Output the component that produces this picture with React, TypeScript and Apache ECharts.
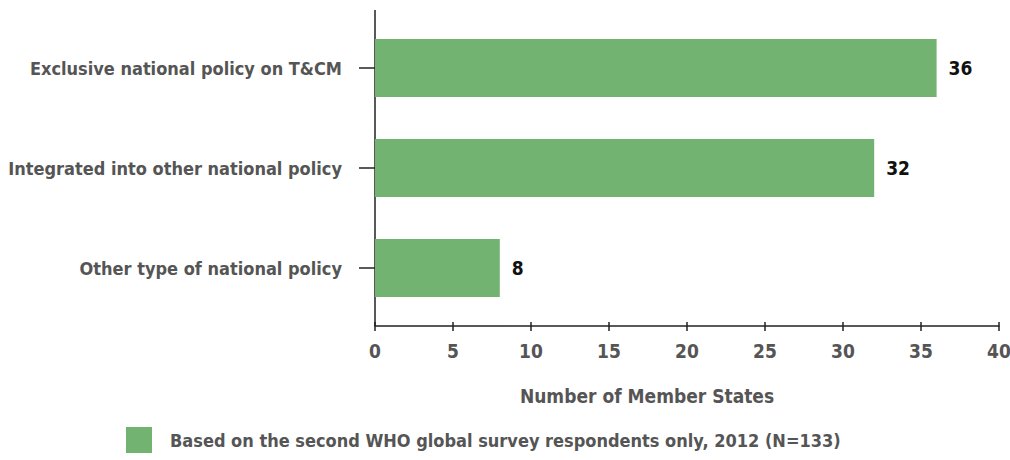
import React, { useEffect, useRef } from "react";
import * as echarts from "echarts";

const categories = [
  "Other type of national policy",
  "Integrated into other national policy",
  "Exclusive national policy on T&CM",
];
const values = [8, 32, 36];
const seriesName = "Based on the second WHO global survey respondents only, 2012 (N=133)";
const axisTitle = "Number of Member States";

const FONT = "'Liberation Sans Narrow', 'DejaVu Sans Condensed', 'Roboto', sans-serif";
const GRAY = "#555555";
const GREEN = "#72b372";

export default function App() {
  const ref = useRef<HTMLDivElement>(null);
  useEffect(() => {
    if (!ref.current) return;
    const chart = echarts.init(ref.current, undefined, { renderer: "svg" });
    chart.setOption({
      animation: false,
      textStyle: { fontFamily: FONT },
      grid: {
        left: 375,
        right: 11,
        top: 18,
        height: 300,
        containLabel: false,
        outerBoundsMode: "none",
      },
      title: {
        text: axisTitle,
        left: 647,
        top: 386,
        padding: 0,
        textAlign: "center",
        textStyle: { fontFamily: FONT, fontSize: 19, fontWeight: "bold", color: GRAY },
      },
      legend: {
        left: 126,
        top: 427,
        padding: 0,
        itemWidth: 26,
        itemHeight: 26,
        itemGap: 10,
        icon: "rect",
        textStyle: { fontFamily: FONT, fontSize: 18, fontWeight: "bold", color: GRAY, padding: [0, 0, 0, 13] },
        data: [seriesName],
      },
      xAxis: [
        {
          type: "value",
          min: 0,
          max: 40,
          interval: 5,
          offset: 8,
          axisLine: { show: true, lineStyle: { color: "#222", width: 1.5 } },
          axisTick: { show: true, length: 5, lineStyle: { color: "#222", width: 1.5 } },
          axisLabel: {
            margin: 15,
            fontFamily: FONT,
            fontSize: 19,
            fontWeight: "bold",
            color: GRAY,
            showMaxLabel: true,
            hideOverlap: false,
          },
          splitLine: { show: false },
        },
        {
          type: "value",
          min: 0,
          max: 40,
          interval: 5,
          position: "bottom",
          offset: 8,
          axisLine: { show: false },
          axisTick: { show: true, inside: true, length: 4, lineStyle: { color: "#222", width: 1.5 } },
          axisLabel: { show: false },
          splitLine: { show: false },
        },
      ],
      yAxis: {
        type: "category",
        data: categories,
        axisLine: { show: false },
        axisTick: { show: true, length: 16, alignWithLabel: true, lineStyle: { color: "#222", width: 1.5 } },
        axisLabel: { margin: 33, fontFamily: FONT, fontSize: 18, fontWeight: "bold", color: GRAY },
      },
      graphic: [
        {
          type: "line",
          shape: { x1: 375, y1: 10, x2: 375, y2: 326 },
          style: { stroke: "#222", lineWidth: 1.5 },
          silent: true,
        },
      ],
      series: [
        {
          name: seriesName,
          type: "bar",
          data: values,
          barWidth: 58,
          itemStyle: { color: GREEN },
          label: {
            show: true,
            position: "right",
            distance: 12,
            fontFamily: FONT,
            fontSize: 19,
            fontWeight: "bold",
            color: "#111",
          },
        },
      ],
    });
    return () => chart.dispose();
  }, []);
  return (
    <div
      ref={ref}
      style={{ position: "absolute", left: 0, top: 0, width: 1010, height: 460, background: "#fff" }}
    />
  );
}
